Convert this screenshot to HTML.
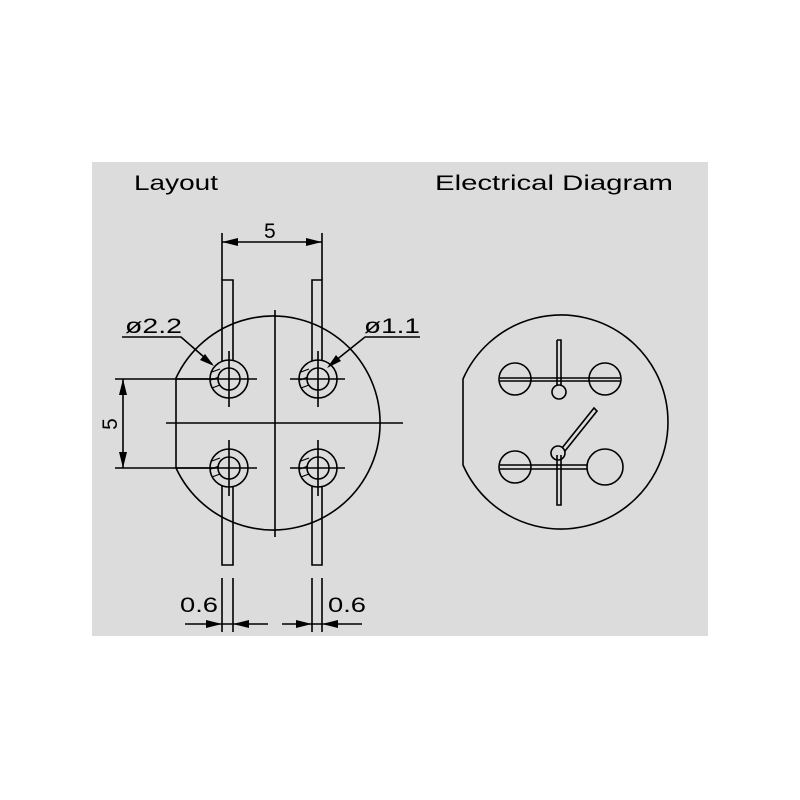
<!DOCTYPE html>
<html><head><style>
html,body{margin:0;padding:0;background:#fff;width:800px;height:800px;overflow:hidden}
svg{display:block}
text{font-family:"Liberation Sans",sans-serif;fill:#000}
</style></head><body>
<svg width="800" height="800" viewBox="0 0 800 800" xmlns="http://www.w3.org/2000/svg">
<rect x="0" y="0" width="800" height="800" fill="#fff"/>
<rect x="92" y="162" width="616" height="474" fill="#dcdcdc"/>
<text x="134" y="190" font-size="21" textLength="84" lengthAdjust="spacingAndGlyphs">Layout</text>
<text x="435" y="190" font-size="21" textLength="238" lengthAdjust="spacingAndGlyphs">Electrical Diagram</text>
<g stroke="#000" stroke-width="1.6" fill="none">
<path d="M176,378 A107,107 0 1,1 176,468 Z"/>
<line x1="166" y1="423" x2="403" y2="423"/>
<line x1="275" y1="310" x2="275" y2="537"/>
<path d="M222,361 L222,280 L233,280 L233,361"/>
<path d="M312,361 L312,280 L322,280 L322,361"/>
<path d="M222,486 L222,565 L233,565 L233,486"/>
<path d="M312,486 L312,565 L322,565 L322,486"/>
<g>
<circle cx="229" cy="379" r="19"/><circle cx="229" cy="379" r="11"/>
<circle cx="318" cy="379" r="19"/><circle cx="318" cy="379" r="11"/>
<circle cx="229" cy="468" r="19"/><circle cx="229" cy="468" r="11"/>
<circle cx="318" cy="468" r="19"/><circle cx="318" cy="468" r="11"/>
</g>
<line x1="176" y1="379" x2="257" y2="379"/><line x1="229" y1="351" x2="229" y2="407"/>
<line x1="290" y1="379" x2="345" y2="379"/><line x1="318" y1="351" x2="318" y2="407"/>
<line x1="176" y1="468" x2="257" y2="468"/><line x1="229" y1="440" x2="229" y2="496"/>
<line x1="290" y1="468" x2="345" y2="468"/><line x1="318" y1="440" x2="318" y2="496"/>
<path d="M212,372 l8,-3 M211,380 l8,-3 M212,388 l8,-3 M301,372 l8,-3 M300,380 l8,-3 M301,388 l8,-3 M212,461 l8,-3 M211,469 l8,-3 M212,477 l8,-3 M301,461 l8,-3 M300,469 l8,-3 M301,477 l8,-3" stroke-width="1.2"/>
<line x1="222" y1="233" x2="222" y2="280"/>
<line x1="322" y1="233" x2="322" y2="280"/>
<line x1="222" y1="242" x2="322" y2="242"/>
<line x1="115" y1="379" x2="215" y2="379"/>
<line x1="115" y1="468" x2="215" y2="468"/>
<line x1="123" y1="379" x2="123" y2="468"/>
<line x1="222" y1="578" x2="222" y2="632"/><line x1="233" y1="578" x2="233" y2="632"/>
<line x1="312" y1="578" x2="312" y2="632"/><line x1="322" y1="578" x2="322" y2="632"/>
<line x1="185" y1="624" x2="268" y2="624"/>
<line x1="282" y1="624" x2="362" y2="624"/>
<path d="M122,337 L181,337 L212,364"/>
<path d="M420,337 L365,337 L330,365"/>
</g>
<g fill="#000">
<polygon points="222,242 238,238 238,246"/>
<polygon points="322,242 306,238 306,246"/>
<polygon points="123,379 119,395 127,395"/>
<polygon points="123,468 119,452 127,452"/>
<polygon points="222,624 206,620 206,628"/>
<polygon points="233,624 249,620 249,628"/>
<polygon points="312,624 296,620 296,628"/>
<polygon points="322,624 338,620 338,628"/>
<polygon points="214,366 200,360 205,354"/>
<polygon points="327,368 336,355 341,361"/>
</g>
<text x="264" y="238" font-size="21">5</text>
<text x="125" y="333" font-size="21" textLength="57" lengthAdjust="spacingAndGlyphs">ø2.2</text>
<text x="364" y="333" font-size="21" textLength="56" lengthAdjust="spacingAndGlyphs">ø1.1</text>
<text transform="translate(117,424) rotate(-90)" font-size="21" text-anchor="middle">5</text>
<text x="180" y="612" font-size="21" textLength="38" lengthAdjust="spacingAndGlyphs">0.6</text>
<text x="328" y="612" font-size="21" textLength="38" lengthAdjust="spacingAndGlyphs">0.6</text>
<g stroke="#000" stroke-width="1.6" fill="none">
<path d="M463,379 A107,107 0 1,1 463,465 Z"/>
<circle cx="515" cy="379" r="16"/>
<circle cx="605" cy="379" r="16"/>
<circle cx="515" cy="467" r="16"/>
<circle cx="605" cy="467" r="18"/>
<path d="M500,378 L620,378 M500,381 L620,381"/>
<path d="M557,340 L561,340 L561,386 M557,340 L557,386"/>
<circle cx="559" cy="392" r="7"/>
<path d="M500,465 L587,465 M500,469 L587,469"/>
<path d="M557,455 L557,505 L561,505 L561,455"/>
<circle cx="558" cy="453" r="7"/>
<path d="M562,448 L594,408 L597,411 L565,451"/>
</g>
</svg>
</body></html>
